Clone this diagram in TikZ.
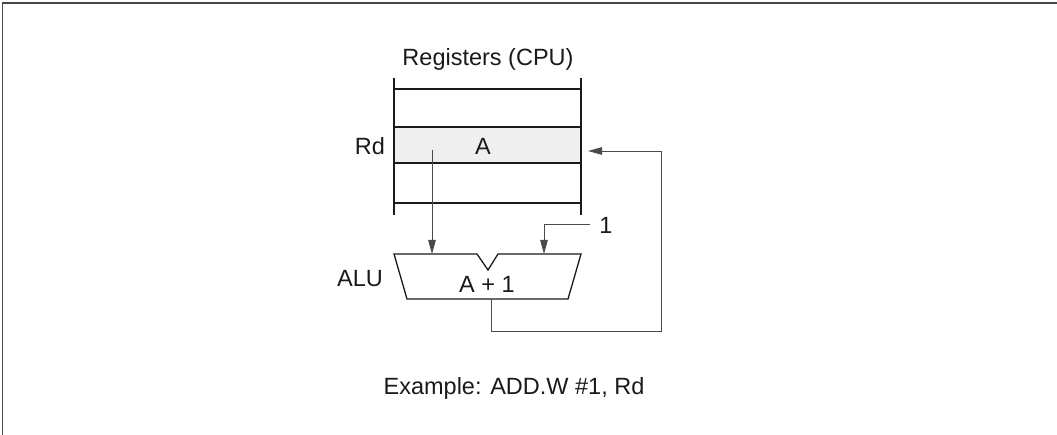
\documentclass[tikz,border=0pt]{standalone}
\usepackage{fontspec}
\setmainfont{Liberation Sans}
\usetikzlibrary{arrows.meta,positioning}
\definecolor{inkC}{HTML}{1A1A1A}
\definecolor{wireC}{HTML}{4A4A4A}
\definecolor{cellC}{HTML}{EFEFEF}
\begin{document}
\begin{tikzpicture}[
  x=1pt,
  y=-1pt,
  line join=miter,
  lbl/.style={font=\fontsize{23.5}{26}\selectfont, inner sep=0pt, text=inkC},
  regline/.style={inkC, line width=1.3pt},
  wire/.style={wireC, line width=0.9pt},
  tip/.style={-{Triangle[length=14pt,width=7.5pt]}}
]

\useasboundingbox (0,0) rectangle (1057,435);

% Outer frame, only top and left edges show.
\draw[inkC!80, line width=1.6pt] (2.5,435) -- (2.5,3) -- (1057,3);

% Register file with the Rd row shaded.
\fill[cellC] (394,127) rectangle (581,163);
\draw[regline] (394,78) -- (394,215);
\draw[regline] (581,78) -- (581,215);
\foreach \y in {89,127,163,203}{
  \draw[regline] (394,\y) -- (581,\y);
}
\node[lbl] (regT) at (488,59) {Registers (CPU)};
\node[lbl] (regA) at (483,146) {A};
\node[lbl] (rd) at (370,146) {Rd};

% ALU with its input notch.
\draw[regline] (394,254) -- (477,254) -- (488,270) -- (498,254)
  -- (581,254) -- (568,299) -- (407,299) -- cycle;
\coordinate (aluL) at (432,254);
\coordinate (aluR) at (544,254);
\coordinate (aluO) at (491,299);
\node[lbl] (aluT) at (487,284) {A + 1};
\node[lbl] (alu) at (360,279) {ALU};

% Operand and result paths.
\node[lbl] (one) at (606,225) {1};
\coordinate (rdOut) at (432,150);
\coordinate (oneIn) at (590,224);
\coordinate (back) at (661,331);
\coordinate (rdIn) at (588,151);
\draw[wire, tip] (rdOut) -- (aluL);
\draw[wire, tip] (oneIn) -| (aluR);
\draw[wire, tip] (aluO) |- (back) |- (rdIn);

\node[lbl] (ex) at (514,388) {Example: ADD.W \#1, Rd};

\end{tikzpicture}
\end{document}
